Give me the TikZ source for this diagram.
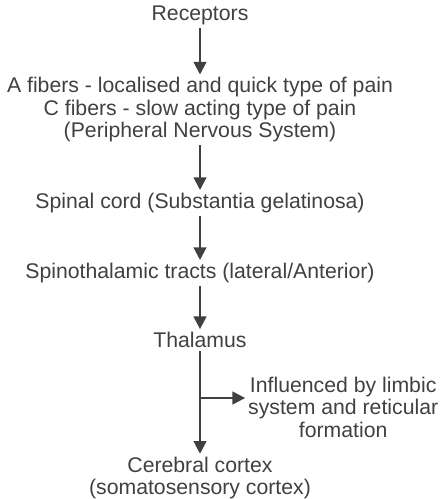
\documentclass[tikz,border=0pt]{standalone}
\usepackage{fontspec}
\setmainfont{Liberation Sans}
\usetikzlibrary{arrows.meta, positioning}

\begin{document}
\begin{tikzpicture}[
    step text/.style={align=center, text=black!75, inner sep=2pt, font=\fontsize{15.1}{16}\selectfont},
    flow/.style={draw=black!75, line width=1.5pt, -{Triangle[length=9pt, width=9pt]}}
]
\useasboundingbox (0,0) rectangle (11,-12.475);

% Nodes
\node[step text] (REC) at (5.0, -0.375) {Receptors};
\node[step text] (FIB) at (5.0, -2.75) {A fibers - localised and quick type of pain\\C fibers - slow acting type of pain\\(Peripheral Nervous System)};
\node[step text] (SPC) at (5.0, -5.075) {Spinal cord (Substantia gelatinosa)};
\node[step text] (STT) at (5.0, -6.825) {Spinothalamic tracts (lateral/Anterior)};
\node[step text] (THA) at (5.0, -8.5) {Thalamus};
\node[step text] (LIM) at (8.58, -10.175) {Influenced by limbic\\system and reticular\\formation};
\node[step text] (CTX) at (5.0, -11.95) {Cerebral cortex\\(somatosensory cortex)};
\coordinate (BR) at (5.0, -9.95);

% Collegamenti
\draw[flow] (REC) -- (FIB);
\draw[flow] (FIB) -- (SPC);
\draw[flow] (SPC) -- (STT);
\draw[flow] (STT) -- (THA);
\draw[flow] (THA) -- (CTX);
\draw[flow] (BR) -- (LIM.west |- BR);

\end{tikzpicture}
\end{document}
